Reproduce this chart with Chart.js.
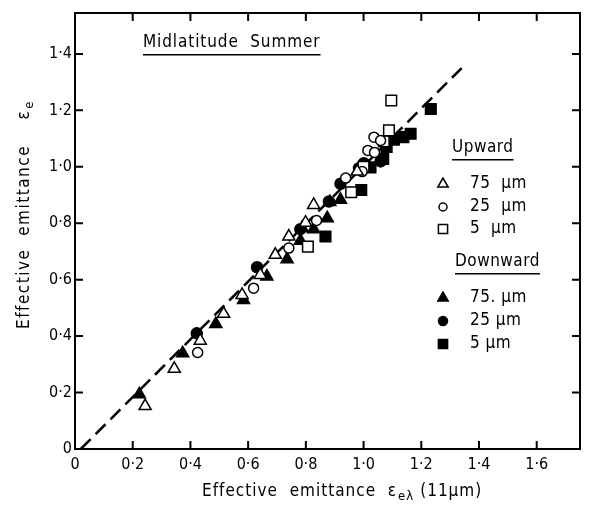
<!DOCTYPE html>
<html>
<head>
<meta charset="utf-8">
<script src="https://cdn.jsdelivr.net/npm/chart.js@4.4.0/dist/chart.umd.min.js"></script>
<style>
  html, body { margin: 0; padding: 0; background: #fff; }
</style>
</head>
<body>
<canvas id="chart" width="594" height="509"></canvas>
<script>
// ================== DATA ==================
const xTicks = [0, 0.2, 0.4, 0.6, 0.8, 1.0, 1.2, 1.4, 1.6];
const yTicks = [0, 0.2, 0.4, 0.6, 0.8, 1.0, 1.2, 1.4];

// Upward (open symbols)
const up75 = [[0.243, 0.152], [0.344, 0.284], [0.434, 0.384], [0.515, 0.479], [0.579, 0.546],
  [0.642, 0.617], [0.694, 0.688], [0.741, 0.753], [0.799, 0.802], [0.827, 0.865], [0.978, 0.983]];
const up25 = [[0.425, 0.342], [0.619, 0.570], [0.741, 0.712], [0.837, 0.810], [0.938, 0.960],
  [0.995, 0.983], [1.015, 1.058], [1.038, 1.051], [1.036, 1.105], [1.059, 1.093]];
const up5 = [[0.807, 0.717], [0.957, 0.910], [1.000, 1.000], [1.070, 1.090], [1.088, 1.129], [1.096, 1.235]];

// Downward (filled symbols)
const down75 = [[0.223, 0.194], [0.373, 0.339], [0.488, 0.443], [0.584, 0.528], [0.665, 0.611],
  [0.735, 0.672], [0.781, 0.738], [0.787, 0.783], [0.827, 0.779], [0.874, 0.818], [0.883, 0.875], [0.920, 0.883]];
const down25 = [[0.422, 0.410], [0.631, 0.644], [0.781, 0.779], [0.880, 0.877], [0.920, 0.940],
  [0.984, 0.995], [1.001, 1.013], [1.059, 1.019]];
const down5 = [[0.868, 0.753], [0.992, 0.918], [1.024, 0.998], [1.068, 1.028], [1.080, 1.070],
  [1.105, 1.096], [1.138, 1.105], [1.163, 1.117], [1.233, 1.205]];

// dashed fit line
const fitLine = [[0.02, 0], [1.34, 1.35]];

const FONT = "'DejaVu Sans Condensed', 'DejaVu Sans', sans-serif";

const toPts = arr => arr.map(p => ({ x: p[0], y: p[1] }));
const fmt = v => v === 0 ? '0' : v.toFixed(1).replace('.', '·');

function symbolSet(label, data, style, radius, filled) {
  return {
    label: label,
    data: toPts(data),
    pointStyle: style,
    pointRadius: radius,
    pointHoverRadius: radius,
    pointBorderWidth: 1.5,
    pointBackgroundColor: filled ? '#000' : '#fff',
    pointBorderColor: '#000',
    showLine: false
  };
}

// ================== FRAME, TICKS, LABELS ==================
function textU(ctx, txt, x, y, underline) {
  ctx.fillText(txt, x, y);
  if (underline) {
    const w = ctx.measureText(txt).width;
    ctx.fillRect(x, y + 11, w, 1.5);
  }
}

const decor = {
  id: 'decor',
  afterDraw(chart) {
    const { ctx, chartArea: a, scales: { x, y } } = chart;
    ctx.save();
    ctx.strokeStyle = '#000';
    ctx.fillStyle = '#000';
    ctx.lineWidth = 2;
    ctx.strokeRect(a.left, a.top, a.right - a.left, a.bottom - a.top);

    // ticks pointing inward on all four sides
    const tl = 8;
    ctx.beginPath();
    xTicks.forEach(v => {
      if (v === 0) return;
      const px = x.getPixelForValue(v);
      ctx.moveTo(px, a.bottom); ctx.lineTo(px, a.bottom - tl);
      ctx.moveTo(px, a.top); ctx.lineTo(px, a.top + tl);
    });
    yTicks.forEach(v => {
      if (v === 0) return;
      const py = y.getPixelForValue(v);
      ctx.moveTo(a.left, py); ctx.lineTo(a.left + tl, py);
      ctx.moveTo(a.right, py); ctx.lineTo(a.right - tl, py);
    });
    ctx.stroke();

    // title
    ctx.font = '17px ' + FONT;
    ctx.letterSpacing = '0.9px';
    ctx.textBaseline = 'middle';
    ctx.textAlign = 'left';
    textU(ctx, 'Midlatitude  Summer', 143, 43, true);

    // legend
    ctx.letterSpacing = '0.5px';
    const lx = 443, tx = 470;
    textU(ctx, 'Upward', 452, 148, true);
    textU(ctx, 'Downward', 455, 262, true);
    const rows = [
      [0, 184, '75  μm'], [1, 207, '25  μm'], [2, 229, '5  μm'],
      [3, 298, '75. μm'], [4, 321, '25 μm'], [5, 344, '5 μm']
    ];
    rows.forEach(([i, ly, txt]) => {
      const ds = chart.data.datasets[i];
      ctx.save();
      ctx.fillStyle = ds.pointBackgroundColor;
      ctx.strokeStyle = '#000';
      ctx.lineWidth = 1.5;
      Chart.helpers.drawPoint(ctx, {
        pointStyle: ds.pointStyle, radius: ds.pointRadius - 1, rotation: 0, borderWidth: 1.5
      }, lx, ly);
      ctx.restore();
      ctx.fillText(txt, tx, ly);
    });

    // x axis title with subscript
    ctx.letterSpacing = '1px';
    ctx.font = '17px ' + FONT;
    let cx = 202;
    const ty = 492;
    const part1 = 'Effective  emittance  ε';
    ctx.fillText(part1, cx, ty);
    cx += ctx.measureText(part1).width;
    ctx.font = '13px ' + FONT;
    ctx.fillText('eλ', cx + 1, ty + 5);
    cx += ctx.measureText('eλ').width + 7;
    ctx.font = '17px ' + FONT;
    ctx.fillText('(11μm)', cx, ty);

    // y axis title (rotated)
    ctx.translate(25, 215);
    ctx.rotate(-Math.PI / 2);
    ctx.letterSpacing = '1.5px';
    ctx.font = '17px ' + FONT;
    const yt = 'Effective  emittance    ε';
    const w1 = ctx.measureText(yt).width;
    ctx.font = '13px ' + FONT;
    const w2 = ctx.measureText('e').width;
    const start = -(w1 + w2) / 2;
    ctx.font = '17px ' + FONT;
    ctx.fillText(yt, start, 0);
    ctx.font = '13px ' + FONT;
    ctx.fillText('e', start + w1 + 1, 5);
    ctx.restore();
  }
};

// ================== CHART ==================
new Chart(document.getElementById('chart').getContext('2d'), {
  type: 'scatter',
  data: {
    datasets: [
      symbolSet('Upward 75 μm', up75, 'triangle', 7, false),
      symbolSet('Upward 25 μm', up25, 'circle', 5, false),
      symbolSet('Upward 5 μm', up5, 'rect', 7.5, false),
      symbolSet('Downward 75 μm', down75, 'triangle', 7, true),
      symbolSet('Downward 25 μm', down25, 'circle', 5.5, true),
      symbolSet('Downward 5 μm', down5, 'rect', 7.5, true),
      {
        label: 'fit',
        data: toPts(fitLine),
        showLine: true,
        borderColor: '#000',
        borderWidth: 2.5,
        borderDash: [14, 7],
        pointRadius: 0,
        fill: false
      }
    ]
  },
  options: {
    responsive: false,
    animation: false,
    devicePixelRatio: 1,
    layout: { padding: { left: 0, top: 13, right: 14, bottom: 0 } },
    plugins: { legend: { display: false }, tooltip: { enabled: false } },
    scales: {
      x: {
        type: 'linear', min: 0, max: 1.75,
        afterBuildTicks: s => { s.ticks = xTicks.map(v => ({ value: v })); },
        afterFit: s => { s.height = 60; },
        grid: { display: false, drawTicks: false },
        border: { display: false },
        ticks: { color: '#000', padding: 6, maxRotation: 0, autoSkip: false,
          font: { family: FONT, size: 16 }, callback: v => fmt(v) }
      },
      y: {
        type: 'linear', min: 0, max: 1.545,
        afterBuildTicks: s => { s.ticks = yTicks.map(v => ({ value: v })); },
        afterFit: s => { s.width = 75; },
        grid: { display: false, drawTicks: false },
        border: { display: false },
        ticks: { color: '#000', padding: 3, autoSkip: false,
          font: { family: FONT, size: 16 }, callback: v => fmt(v) }
      }
    }
  },
  plugins: [decor]
});
</script>
</body>
</html>
